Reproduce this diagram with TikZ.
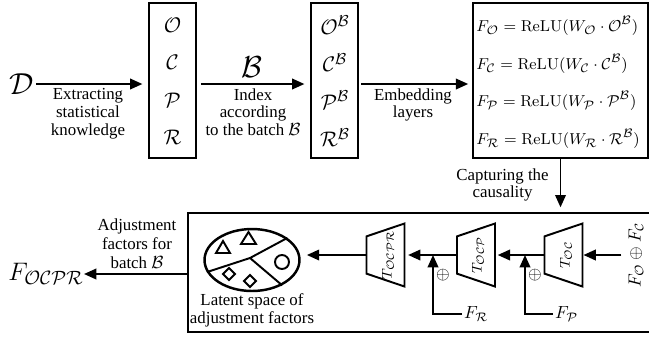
\documentclass[tikz,border=0pt]{standalone}
\usepackage[no-math]{fontspec}
\setmainfont{Liberation Serif}
\usetikzlibrary{arrows.meta,shapes.geometric}

\tikzset{
  panel/.style={draw,line width=1.5pt,inner sep=0pt},
  flow/.style={line width=1.1pt,-{Triangle[length=7pt,width=6pt]}},
  note/.style={align=center,inner sep=0pt},
  causal/.style={draw,line width=1.1pt,trapezium,trapezium angle=71,
    trapezium stretches=true,minimum width=1.26cm,minimum height=0.76cm,
    rotate=90,inner sep=1pt},
  tlabel/.style={rotate=90,inner sep=0pt,font=\fontsize{8.4}{8.4}\selectfont},
  glyph/.style={line width=1.1pt},
}

\begin{document}
\begin{tikzpicture}[x=0.02cm,y=-0.02cm,font=\fontsize{9.6}{10.2}\selectfont]
  \useasboundingbox (0,0) rectangle (649,339);
  % top row: data, sets, batch, embeddings
  \node[font=\fontsize{18}{18}\selectfont,anchor=east,inner sep=1pt] (data) at (36,84) {$\mathcal{D}$};
  \node[panel,minimum width=0.94cm,minimum height=3.1cm] (sets) at (172.5,80.5) {};
  \node[panel,minimum width=0.94cm,minimum height=3.1cm] (batch) at (334.5,80.5) {};
  \node[panel,minimum width=3.5cm,minimum height=3.1cm] (emb) at (560.5,80.5) {};
  \foreach \s [count=\i] in {O,C,P,R} {
    \node[font=\fontsize{12.5}{12.5}\selectfont] (set\s) at (172.5,-12.5+37.5*\i) {$\mathcal{\s}$};
    \node[font=\fontsize{12.5}{12.5}\selectfont] (bat\s) at (335,-12.5+37.5*\i) {$\mathcal{\s}^{\mathcal{B}}$};
    \node[anchor=west,inner sep=0pt,font=\fontsize{9.5}{9.5}\selectfont] (emb\s) at (476,-11.5+37.5*\i)
      {$F_{\mathcal{\s}} = \mathrm{ReLU}(W_{\mathcal{\s}}\cdot\mathcal{\s}^{\mathcal{B}})$};
  }
  \draw[flow,shorten >=3pt] (data.east) -- (data.east -| sets.west);
  \draw[flow,shorten <=2pt,shorten >=3pt] (sets.east |- data.east) -- (data.east -| batch.west);
  \draw[flow,shorten <=1pt,shorten >=2pt] (batch.east |- data.east) -- (data.east -| emb.west);
  \node[note,anchor=north] (extract) at (88,88) {Extracting\\statistical\\knowledge};
  \node[font=\fontsize{17}{17}\selectfont,inner sep=0pt] (bsym) at (252,67) {$\mathcal{B}$};
  \node[note,anchor=north] (index) at (253,88) {Index\\according\\to the batch $\mathcal{B}$};
  \node[note,anchor=north] (layers) at (413,88) {Embedding\\layers};

  % bottom row: causal chain
  \node[panel,minimum width=9.24cm,minimum height=2.38cm] (low) at (419,272.5) {};
  \draw[flow,shorten >=2.5pt] (emb.south) -- (emb.south |- low.north);
  \node[note,anchor=east] (capture) at (549,185) {Capturing the\\causality};

  \node[causal] (toc) at (563.5,255) {};
  \node[causal] (tocp) at (476,255) {};
  \node[causal] (tocpr) at (385.5,255) {};
  \node[tlabel] at (566,255) {$T_{\mathcal{OC}}$};
  \node[tlabel] at (478,255) {$T_{\mathcal{OCP}}$};
  \node[tlabel] at (388,255) {$T_{\mathcal{OCPR}}$};
  \node[rotate=90,inner sep=0pt] (pair) at (636,255) {$F_{\mathcal{O}}\oplus F_{\mathcal{C}}$};

  \draw[flow,shorten <=4pt] (pair.north) -- (toc.south);
  \draw[flow,shorten >=1pt] (toc.north) -- (tocp.south);
  \draw[flow,shorten >=1.5pt] (tocp.north) -- (tocpr.south);

  \node[anchor=west,inner sep=1pt] (fp) at (553,314) {$F_{\mathcal{P}}$};
  \node[anchor=west,inner sep=1pt] (fr) at (462,314) {$F_{\mathcal{R}}$};
  \coordinate (jp) at (525,255);
  \coordinate (jr) at (433,255);
  \draw[flow] (fp.west) -| (jp);
  \draw[flow] (fr.west) -| (jr);
  \node (addp) at (535,275) {$\oplus$};
  \node (addr) at (443,275) {$\oplus$};

  % latent space
  \node[draw,ellipse,line width=1.4pt,minimum width=1.9cm,minimum height=1.24cm,inner sep=0pt] (latent) at (252,260) {};
  \draw[flow,shorten >=3.5pt] (tocpr.north) -- (tocpr.north -| latent.east);
  \coordinate (mid) at (250,258);
  \draw[glyph] (latent.195) -- (mid) -- (latent.32);
  \draw[glyph] (mid) -- (latent.-40);
  \draw[glyph] (216,253) -- (223,241) -- (230,253) -- cycle;
  \draw[glyph] (241,244) -- (248.5,232) -- (256,244) -- cycle;
  \draw[glyph] (282,262) circle (7);
  \draw[glyph] (229,268) -- (235,274) -- (229,280) -- (223,274) -- cycle;
  \draw[glyph] (250,275) -- (256,281) -- (250,287) -- (244,281) -- cycle;
  \node[note,anchor=north] (latentlbl) at (252,293) {Latent space of\\adjustment factors};

  % output
  \node[font=\fontsize{15}{15}\selectfont,anchor=east,inner sep=0pt] (focpr) at (84,274) {$F_{\mathcal{OCPR}}$};
  \draw[flow] (focpr.east -| low.west) -- (focpr.east);
  \node[note,font=\fontsize{9.6}{10.8}\selectfont] (adjust) at (137,244) {Adjustment\\factors for\\batch $\mathcal{B}$};
\end{tikzpicture}
\end{document}
